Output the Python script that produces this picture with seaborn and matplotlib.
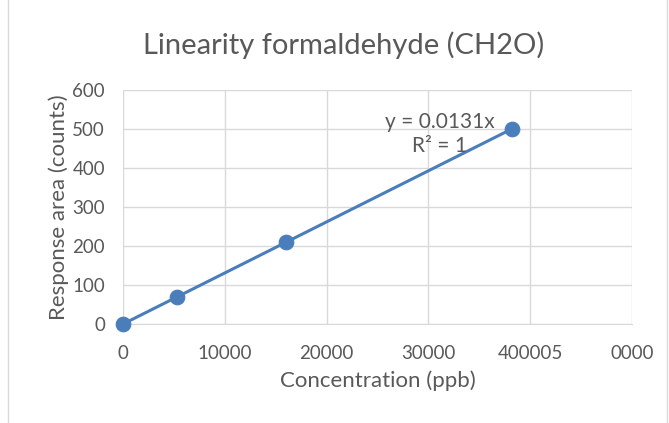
import pandas as pd
import matplotlib
matplotlib.use("Agg")
import matplotlib.pyplot as plt
import seaborn as sns

# data
concentration = [0, 5350, 16030, 38170]
response = [0, 70, 210, 500]
slope = 0.0131
x_ticks = [0, 10000, 20000, 30000, 40000, 50000]
x_tick_labels = ["0", "10000", "20000", "30000", "400005", "0000"]
y_ticks = [0, 100, 200, 300, 400, 500, 600]

df = pd.DataFrame({"conc": concentration, "resp": response})
trend = pd.DataFrame({"conc": [0, max(concentration)]})
trend["resp"] = trend["conc"] * slope

sns.set_style("white")
plt.rcParams["font.family"] = ["Lato", "DejaVu Sans"]

blue = "#4a7ebb"
grey_txt = "#595959"
grid_c = "#d9d9d9"

fig = plt.figure(figsize=(6.69, 4.23), dpi=100)
ax = fig.add_axes([0.1839, 0.234, 0.7608, 0.553])

sns.lineplot(data=trend, x="conc", y="resp", color=blue, linewidth=2.2, ax=ax)
sns.scatterplot(data=df, x="conc", y="resp", color=blue, s=110, edgecolor=blue,
                zorder=5, ax=ax, clip_on=False)

ax.set_xlim(0, 50000)
ax.set_ylim(0, 600)
ax.set_xticks(x_ticks)
ax.set_xticklabels(x_tick_labels)
ax.set_yticks(y_ticks)
ax.grid(True, color=grid_c, linewidth=1)
ax.set_axisbelow(True)
for side in ["top", "right", "left"]:
    ax.spines[side].set_visible(False)
ax.spines["bottom"].set_color(grid_c)
ax.tick_params(axis="both", length=0, labelsize=13.5, colors=grey_txt)
ax.tick_params(axis="x", pad=15)
ax.tick_params(axis="y", pad=13)

ax.set_xlabel("Concentration (ppb)", fontsize=16, color=grey_txt, labelpad=6)
ax.set_ylabel("Response area (counts)", fontsize=16, color=grey_txt, labelpad=2)

fig.text(0.513, 0.893, "Linearity formaldehyde (CH2O)", ha="center", va="center",
         fontsize=21, color=grey_txt)
ax.text(31100, 518, "y = 0.0131x", ha="center", va="center", fontsize=15, color=grey_txt)
ax.text(31100, 456, "R² = 1", ha="center", va="center", fontsize=15, color=grey_txt)

# chart-area border
fig.add_artist(plt.Rectangle((0.012, -0.01), 0.985, 1.02, transform=fig.transFigure,
                             fill=False, edgecolor=grid_c, linewidth=1))

fig.savefig("out.png", dpi=100)
